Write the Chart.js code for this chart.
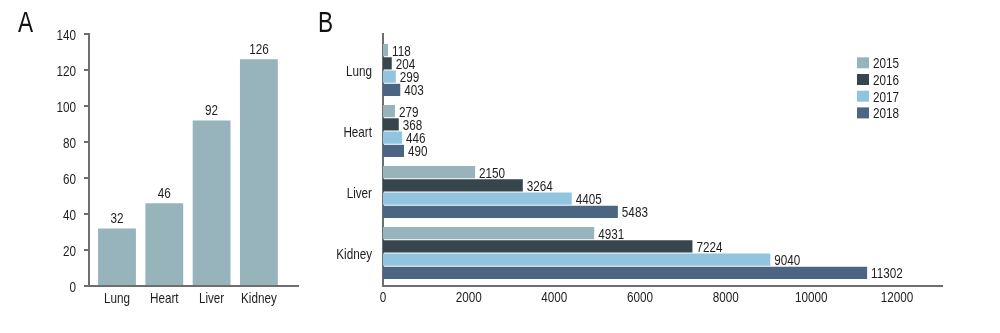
<!DOCTYPE html>
<html>
<head>
<meta charset="utf-8">
<script src="https://cdn.jsdelivr.net/npm/chart.js@4"></script>
<style>
  body { margin: 0; background: #fff; }
  #wrap { position: relative; width: 1000px; height: 333px; }
  .panel { position: absolute; top: 0; height: 333px; }
  .letter { position: absolute; top: 8px; line-height: 1; font-size: 29px; color: #111;
            font-family: 'Liberation Sans', Arial, sans-serif;
            transform: scaleX(0.78); transform-origin: left top; }
</style>
</head>
<body>
<div id="wrap">
  <div class="panel" style="left:0;width:310px"><canvas id="chartA" width="310" height="333"></canvas></div>
  <div class="panel" style="left:310px;width:690px"><canvas id="chartB" width="690" height="333"></canvas></div>
  <div class="letter" style="left:18px">A</div>
  <div class="letter" style="left:318px">B</div>
</div>
<script>
// datos del panel A
var organsA = ['Lung', 'Heart', 'Liver', 'Kidney'];
var countsA = [32, 46, 92, 126];
var ticksAy = [0, 20, 40, 60, 80, 100, 120, 140];

// datos del panel B
var organsB = ['Lung', 'Heart', 'Liver', 'Kidney'];
var years = ['2015', '2016', '2017', '2018'];
var v2015 = [118, 279, 2150, 4931];
var v2016 = [204, 368, 3264, 7224];
var v2017 = [299, 446, 4405, 9040];
var v2018 = [403, 490, 5483, 11302];
var ticksBx = [0, 2000, 4000, 6000, 8000, 10000, 12000];

var fontFam = "'Liberation Sans', Arial, sans-serif";
var textColor = '#1e1e1e';
var axisGray = '#6e6e6e';
var yearColors = ['#97b4bd', '#37454d', '#91c4de', '#4b6583'];

// texto estrecho (la figura usa una fuente condensada)
function narrowText(ctx, txt, x, y, align) {
    ctx.save();
    ctx.translate(x, y);
    ctx.scale(0.78, 1);
    ctx.font = '15px ' + fontFam;
    ctx.fillStyle = textColor;
    ctx.textAlign = align;
    ctx.textBaseline = 'alphabetic';
    ctx.fillText(txt, 0, 0);
    ctx.restore();
}

function setTicks(values) {
    return function (scale) {
        scale.ticks = values.map(function (v) { return { value: v }; });
    };
}

// etiquetas de los ejes, dibujadas con las posiciones de las escalas
var narrowTicks = {
    id: 'narrowTicks',
    afterDraw: function (chart) {
        var ctx = chart.ctx;
        Object.keys(chart.scales).forEach(function (id) {
            var scale = chart.scales[id];
            var off = scale.options.ticks.padding;
            scale.ticks.forEach(function (t) {
                var p = scale.getPixelForValue(t.value);
                if (scale.isHorizontal()) {
                    narrowText(ctx, t.label, p, scale.top + off, 'center');
                } else {
                    narrowText(ctx, t.label, scale.right - off, p + 5.5, 'right');
                }
            });
        });
    }
};

// etiquetas de valor al final de cada barra
var valueLabels = {
    id: 'valueLabels',
    afterDatasetsDraw: function (chart) {
        var ctx = chart.ctx;
        var horiz = chart.options.indexAxis === 'y';
        chart.data.datasets.forEach(function (ds, i) {
            chart.getDatasetMeta(i).data.forEach(function (bar, j) {
                if (horiz) {
                    narrowText(ctx, String(ds.data[j].x), bar.x + 4, bar.y + 5.5, 'left');
                } else {
                    narrowText(ctx, String(ds.data[j].y), bar.x, bar.y - 5, 'center');
                }
            });
        });
    }
};

// leyenda dentro del area del grafico B
var boxLegend = {
    id: 'boxLegend',
    afterDraw: function (chart) {
        var ctx = chart.ctx;
        var x = 547, y = 57.3, step = 16.7;
        chart.data.datasets.forEach(function (ds, i) {
            ctx.fillStyle = ds.backgroundColor;
            ctx.fillRect(x, y + i * step, 12, 11);
            narrowText(ctx, ds.label, x + 16, y + i * step + 11, 'left');
        });
    }
};

var chartA = new Chart(document.getElementById('chartA'), {
    type: 'bar',
    data: {
        datasets: [{
            label: 'Count',
            data: countsA.map(function (v, i) { return { x: i, y: v }; }),
            backgroundColor: '#97b4bd',
            barPercentage: 0.8,
            categoryPercentage: 1
        }]
    },
    options: {
        responsive: false,
        animation: false,
        layout: { padding: { top: 34, right: 12, left: 0, bottom: 0 } },
        plugins: { legend: { display: false }, tooltip: { enabled: false } },
        scales: {
            x: {
                type: 'linear',
                offset: false,
                min: -0.592,
                max: 3.827,
                grid: { display: false, offset: false },
                border: { color: axisGray, width: 2 },
                ticks: { display: false, padding: 17, callback: function (v) { return organsA[v]; } },
                afterBuildTicks: setTicks([0, 1, 2, 3]),
                afterFit: function (s) { s.height = 47; }
            },
            y: {
                min: 0,
                max: 140,
                grid: { drawOnChartArea: false, drawTicks: true, tickLength: 5, color: axisGray, lineWidth: 2 },
                border: { color: axisGray, width: 2 },
                ticks: { display: false, padding: 13, callback: function (v) { return String(v); } },
                afterBuildTicks: setTicks(ticksAy),
                afterFit: function (s) { s.width = 89; }
            }
        }
    },
    plugins: [valueLabels, narrowTicks]
});

var seriesB = [v2015, v2016, v2017, v2018];

var chartB = new Chart(document.getElementById('chartB'), {
    type: 'bar',
    data: {
        datasets: seriesB.map(function (vals, k) {
            return {
                label: years[k],
                data: vals.map(function (v, i) { return { x: v, y: i }; }),
                backgroundColor: yearColors[k],
                barPercentage: 0.92,
                categoryPercentage: 0.87
            };
        })
    },
    options: {
        indexAxis: 'y',
        responsive: false,
        animation: false,
        layout: { padding: { top: 34, right: 58, left: 0, bottom: 0 } },
        plugins: { legend: { display: false }, tooltip: { enabled: false } },
        scales: {
            x: {
                type: 'linear',
                min: 0,
                max: 13050,
                grid: { display: false },
                border: { color: axisGray, width: 2 },
                ticks: { display: false, padding: 16, callback: function (v) { return String(v); } },
                afterBuildTicks: setTicks(ticksBx),
                afterFit: function (s) { s.height = 47; }
            },
            y: {
                type: 'linear',
                offset: false,
                reverse: true,
                min: -0.59,
                max: 3.54,
                grid: { display: false, offset: false },
                border: { color: axisGray, width: 2 },
                ticks: { display: false, padding: 11, callback: function (v) { return organsB[v]; } },
                afterBuildTicks: setTicks([0, 1, 2, 3]),
                afterFit: function (s) { s.width = 73; }
            }
        }
    },
    plugins: [valueLabels, narrowTicks, boxLegend]
});
</script>
</body>
</html>
